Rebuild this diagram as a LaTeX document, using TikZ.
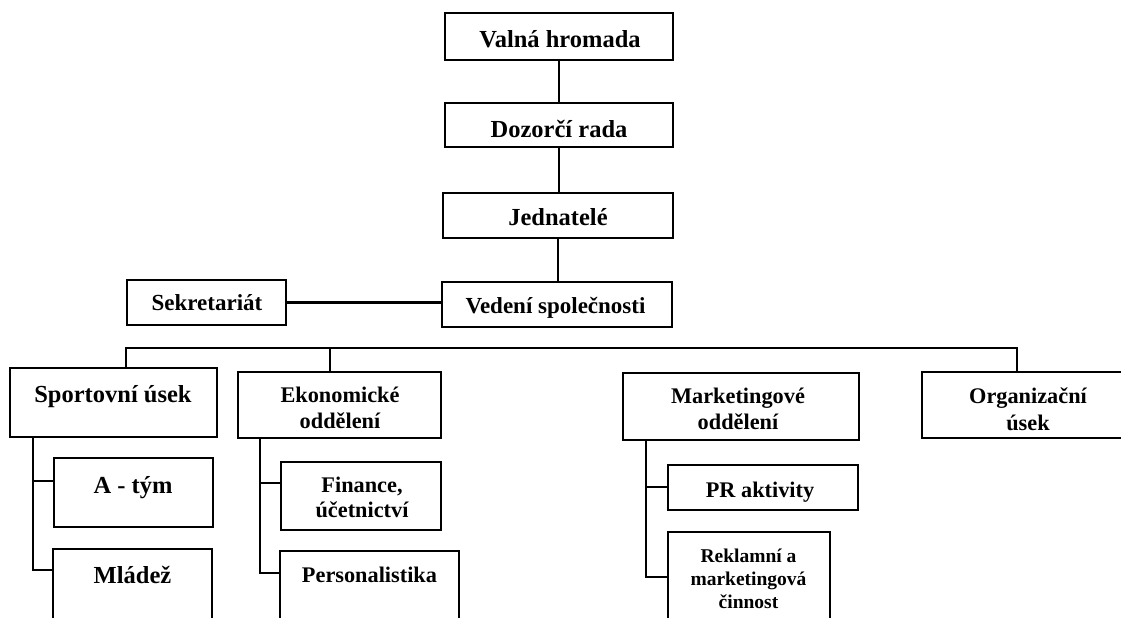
\documentclass[tikz,border=0pt]{standalone}
\usepackage{fontspec}
\setmainfont{Liberation Serif}
\begin{document}
\begin{tikzpicture}[x=1pt,y=-1pt,line width=2.5pt,
  box/.style={draw,line width=2.5pt,rectangle,inner sep=0pt},
  lbl/.style={font=\bfseries\fontsize{22.3}{26}\selectfont,anchor=base,inner sep=0pt},
  big/.style={lbl,font=\bfseries\fontsize{24.5}{28}\selectfont},
  mid/.style={lbl,font=\bfseries\fontsize{23}{27}\selectfont},
  small/.style={lbl,font=\bfseries\fontsize{19.5}{23}\selectfont}]
\useasboundingbox (0,0) rectangle (1121,618);
\clip (0,0) rectangle (1121,618);
% boxes
\node[box,minimum width=228pt,minimum height=47pt] (vh) at (559,36.5) {};
\node[box,minimum width=228pt,minimum height=44pt] (dr) at (559,125) {};
\node[box,minimum width=230pt,minimum height=45pt] (jed) at (558,215.5) {};
\node[box,minimum width=230pt,minimum height=45pt] (ved) at (557,304.5) {};
\node[box,minimum width=159pt,minimum height=45pt] (sek) at (206.5,302.5) {};
\node[box,minimum width=207pt,minimum height=69pt] (sport) at (113.5,402.5) {};
\node[box,minimum width=159pt,minimum height=69pt] (atym) at (133.5,492.5) {};
\node[box,minimum width=159pt,minimum height=91pt] (mlad) at (132.5,594.5) {};
\node[box,minimum width=203pt,minimum height=66pt] (eko) at (339.5,405) {};
\node[box,minimum width=160pt,minimum height=68pt] (fin) at (361,496) {};
\node[box,minimum width=179pt,minimum height=89pt] (pers) at (369.5,595.5) {};
\node[box,minimum width=236pt,minimum height=67pt] (mkt) at (741,406.5) {};
\node[box,minimum width=190pt,minimum height=45pt] (pr) at (763,487.5) {};
\node[box,minimum width=162pt,minimum height=108pt] (rek) at (749,586) {};
\node[box,minimum width=212pt,minimum height=66pt] (org) at (1028,405) {};
% texts
\node[big] (vh-t) at (560,48) {Valná hromada};
\node[big] (dr-t) at (559,137) {Dozorčí rada};
\node[big] (jed-t) at (558,225) {Jednatelé};
\node[mid] (ved-t) at (555.5,313) {Vedení společnosti};
\node[mid] (sek-t) at (207,310) {Sekretariát};
\node[big] (sport-t) at (113,402) {Sportovní úsek};
\node[big] (atym-t) at (133,493) {A - tým};
\node[big] (mlad-t) at (132.5,583) {Mládež};
\node[lbl] (eko-t1) at (340,402) {Ekonomické};
\node[lbl] (eko-t2) at (340,428) {oddělení};
\node[lbl] (fin-t1) at (362,492) {Finance,};
\node[lbl] (fin-t2) at (362,517) {účetnictví};
\node[lbl] (pers-t) at (369.5,582) {Personalistika};
\node[lbl] (mkt-t1) at (738,403) {Marketingové};
\node[lbl] (mkt-t2) at (738,429) {oddělení};
\node[lbl] (pr-t) at (760,497) {PR aktivity};
\node[small] (rek-t1) at (748.5,562) {Reklamní a};
\node[small] (rek-t2) at (748.5,585) {marketingová};
\node[small] (rek-t3) at (748.5,608) {činnost};
\node[lbl] (org-t1) at (1028,403) {Organizační};
\node[lbl] (org-t2) at (1028,430) {úsek};
% top chain
\draw (vh.south) -- (vh.south |- dr.north);
\draw (dr.south) -- (dr.south |- jed.north);
\draw (jed.south) -- (jed.south |- ved.north);
\draw (sek.east) -- (sek.east -| ved.west);
% bus
\coordinate (busL) at (126,348);
\coordinate (busE) at (330,348);
\coordinate (busR) at (1017,348);
\draw (busL |- sport.north) -- (busL) -- (busR) -- (busR |- org.north);
\draw (busE) -- (busE |- eko.north);
% sport children
\coordinate (sA) at (33,481);
\coordinate (sM) at (33,570);
\draw (sport.south -| sA) -- (sM) -- (sM -| mlad.west);
\draw (sA) -- (sA -| atym.west);
% eko children
\coordinate (eF) at (260,483);
\coordinate (eP) at (260,573);
\draw (eko.south -| eF) -- (eP) -- (eP -| pers.west);
\draw (eF) -- (eF -| fin.west);
% mkt children
\coordinate (mP) at (646,487);
\coordinate (mR) at (646,577);
\draw (mkt.south -| mP) -- (mR) -- (mR -| rek.west);
\draw (mP) -- (mP -| pr.west);
\end{tikzpicture}
\end{document}
